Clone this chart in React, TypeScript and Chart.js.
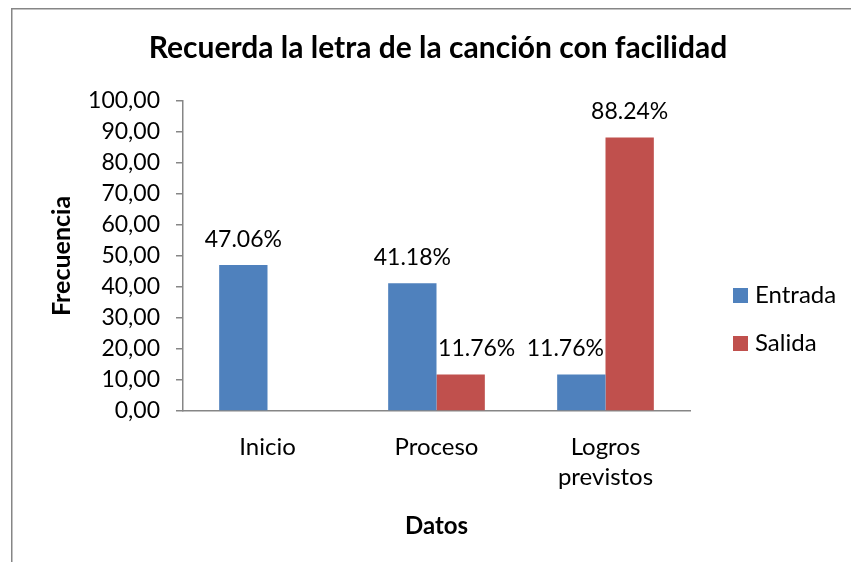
import React, { useEffect, useRef } from "react";
import { Chart, registerables } from "chart.js";

Chart.register(...registerables);

const chartTitle = "Recuerda la letra de la canción con facilidad";
const xAxisTitle = "Datos";
const yAxisTitle = "Frecuencia";
const categories: string[][] = [["Inicio"], ["Proceso"], ["Logros", "previstos"]];
const seriesNames = ["Entrada", "Salida"];
const entrada = [47.06, 41.18, 11.76];
const salida = [0, 11.76, 88.24];
const seriesColors = ["#4F81BD", "#C0504D"];
const yMin = 0;
const yMax = 100;
const yStep = 10;

const FONT = "Lato, Carlito, Calibri, 'Noto Sans', sans-serif";
const AXIS_GRAY = "#868686";

// label nudges (style only): key = datasetIndex-index
const labelShift: Record<string, number> = { "1-1": 16, "0-2": -16 };

const overlay = {
  id: "overlay",
  beforeDraw(chart: any) {
    const { ctx, width, height } = chart;
    ctx.save();
    ctx.fillStyle = "#ffffff";
    ctx.fillRect(0, 0, width, height);
    ctx.strokeStyle = AXIS_GRAY;
    ctx.lineWidth = 1.5;
    ctx.beginPath();
    ctx.moveTo(11.75, height);
    ctx.lineTo(11.75, 8.75);
    ctx.lineTo(width, 8.75);
    ctx.stroke();
    ctx.restore();
  },
  afterDatasetsDraw(chart: any) {
    const { ctx } = chart;
    ctx.save();
    ctx.fillStyle = "#000";
    ctx.font = `23px ${FONT}`;
    ctx.textAlign = "center";
    ctx.textBaseline = "alphabetic";
    chart.data.datasets.forEach((ds: any, di: number) => {
      const meta = chart.getDatasetMeta(di);
      meta.data.forEach((bar: any, i: number) => {
        const v = ds.data[i];
        if (!v) return;
        const dx = labelShift[`${di}-${i}`] || 0;
        ctx.fillText(v.toFixed(2) + "%", bar.x + dx, bar.y - 18.5);
      });
    });
    ctx.restore();
  },
  afterDraw(chart: any) {
    const { ctx } = chart;
    ctx.save();
    ctx.fillStyle = "#000";
    ctx.textAlign = "center";
    ctx.textBaseline = "alphabetic";
    ctx.font = `bold 30px ${FONT}`;
    ctx.fillText(chartTitle, 438, 58);
    // legend
    ctx.font = `24px ${FONT}`;
    ctx.textAlign = "left";
    chart.data.datasets.forEach((ds: any, di: number) => {
      const base = 303 + di * 48;
      ctx.fillStyle = ds.backgroundColor;
      ctx.fillRect(733, base - 15, 15, 15);
      ctx.fillStyle = "#000";
      ctx.fillText(ds.label, 755, base);
    });
    ctx.restore();
  },
};

export default function App() {
  const ref = useRef<HTMLCanvasElement | null>(null);
  useEffect(() => {
    if (!ref.current) return;
    const chart = new Chart(ref.current, {
      type: "bar",
      data: {
        labels: categories,
        datasets: [
          { label: seriesNames[0], data: entrada, backgroundColor: seriesColors[0] },
          { label: seriesNames[1], data: salida, backgroundColor: seriesColors[1] },
        ],
      },
      options: {
        responsive: false,
        animation: false,
        devicePixelRatio: 1,
        layout: { padding: { top: 101, left: 0, right: 161, bottom: 0 } },
        datasets: { bar: { categoryPercentage: 0.572, barPercentage: 1 } },
        plugins: { legend: { display: false }, title: { display: false }, tooltip: { enabled: false } },
        scales: {
          x: {
            grid: { display: true, drawOnChartArea: false, drawTicks: false },
            border: { display: true, color: AXIS_GRAY, width: 1.5 },
            ticks: { color: "#000", padding: 21, font: { family: FONT, size: 24, lineHeight: 1.25 } },
            title: { display: true, text: xAxisTitle, color: "#000", font: { family: FONT, size: 24, weight: "bold" }, padding: { top: 0, bottom: 21.5 } },
            afterFit: (s: any) => { s.height = 151; },
          },
          y: {
            min: yMin,
            max: yMax,
            grid: { display: true, drawOnChartArea: false, drawTicks: true, tickLength: 7, tickColor: AXIS_GRAY, lineWidth: 1.5 },
            border: { display: true, color: AXIS_GRAY, width: 1.5 },
            ticks: {
              stepSize: yStep,
              color: "#000",
              padding: 16,
              font: { family: FONT, size: 23 },
              callback: (v: any) => Number(v).toFixed(2).replace(".", ","),
            },
            title: { display: true, text: yAxisTitle, color: "#000", font: { family: FONT, size: 25, weight: "bold" }, padding: { top: 47, bottom: 0 } },
            afterFit: (s: any) => { s.width = 183; },
          },
        },
      },
      plugins: [overlay],
    });
    return () => chart.destroy();
  }, []);
  return (
    <div style={{ position: "fixed", left: 0, top: 0, width: 851, height: 562 }}>
      <canvas ref={ref} width={851} height={562} style={{ display: "block" }} />
    </div>
  );
}
